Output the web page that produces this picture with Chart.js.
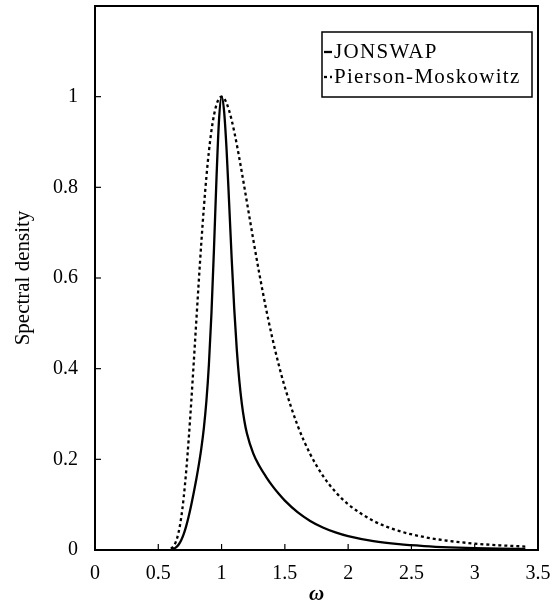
<!DOCTYPE html>
<html><head><meta charset="utf-8">
<script src="https://cdn.jsdelivr.net/npm/chart.js@4/dist/chart.umd.min.js"></script>
<style>html,body{margin:0;padding:0;background:#fff;}#wrap{width:556px;height:607px;}</style>
</head><body><div id="wrap"><canvas id="c" width="556" height="607"></canvas></div>
<script>
const omega = [0.60,0.62,0.64,0.66,0.68,0.70,0.72,0.74,0.76,0.78,0.80,0.82,0.84,0.86,0.88,0.90,0.92,0.94,0.96,0.98,1.00,1.02,1.04,1.06,1.08,1.10,1.12,1.14,1.16,1.18,1.20,1.25,1.30,1.35,1.40,1.45,1.50,1.60,1.70,1.80,1.90,2.00,2.20,2.40,2.60,2.80,3.00,3.20,3.40];
const jonswap = [0.0009,0.0025,0.0057,0.0116,0.0210,0.0345,0.0522,0.0739,0.0988,0.1262,0.1557,0.1878,0.2242,0.2689,0.3281,0.4098,0.5218,0.6645,0.8208,0.9494,1.0,0.9676,0.8808,0.7638,0.6420,0.5325,0.4431,0.3741,0.3229,0.2852,0.2574,0.2131,0.1847,0.1620,0.1420,0.1244,0.1088,0.0834,0.0641,0.0497,0.0388,0.0306,0.0195,0.0128,0.0087,0.0060,0.0043,0.0031,0.0023];
const piersonMoskowitz = [0.0029,0.0081,0.0189,0.0384,0.0694,0.1139,0.1722,0.2434,0.3248,0.4129,0.5035,0.5931,0.6778,0.7550,0.8227,0.8795,0.9250,0.9592,0.9825,0.9958,1.0,0.9962,0.9855,0.9690,0.9478,0.9228,0.8949,0.8648,0.8332,0.8007,0.7677,0.6855,0.6069,0.5343,0.4687,0.4104,0.3591,0.2751,0.2117,0.1640,0.1281,0.1009,0.0642,0.0422,0.0286,0.0199,0.0141,0.0103,0.0076];
const seriesNames = ['JONSWAP','Pierson-Moskowitz'];
const xTicks = [0,0.5,1,1.5,2,2.5,3,3.5];
const xTickLabels = ['0','0.5','1','1.5','2','2.5','3','3.5'];
const yTicks = [0,0.2,0.4,0.6,0.8,1];
const yTickLabels = ['0','0.2','0.4','0.6','0.8','1'];
const xTitle = 'ω';
const yTitle = 'Spectral density';

const FONT = "'Liberation Serif', 'Times New Roman', serif";

const framePlugin = {
  id: 'frame',
  afterDatasetsDraw(chart) {
    const {ctx, chartArea: a, scales: {x, y}} = chart;
    ctx.save();
    ctx.strokeStyle = '#000';
    ctx.lineWidth = 2;
    ctx.strokeRect(a.left, a.top, a.right - a.left, a.bottom - a.top);
    ctx.lineWidth = 1.2;
    xTicks.forEach(v => { const p = x.getPixelForValue(v); ctx.beginPath(); ctx.moveTo(p, a.bottom); ctx.lineTo(p, a.bottom - 6); ctx.stroke(); });
    yTicks.forEach(v => { const p = y.getPixelForValue(v); ctx.beginPath(); ctx.moveTo(a.left, p); ctx.lineTo(a.left + 6, p); ctx.stroke(); });
    // legend
    const bw = 210, bh = 65;
    const bx = a.right - 6 - bw, by = a.top + 26;
    ctx.lineWidth = 1.5;
    ctx.strokeRect(bx, by, bw, bh);
    ctx.font = '21px ' + FONT;
    ctx.fillStyle = '#000';
    ctx.textBaseline = 'middle';
    try { ctx.letterSpacing = '1.3px'; } catch (e) {}
    chart.data.datasets.forEach((ds, i) => {
      const ry = by + 20 + i * 25;
      ctx.save();
      ctx.lineWidth = ds.borderWidth;
      ctx.setLineDash(ds.borderDash || []);
      ctx.beginPath(); ctx.moveTo(bx + 2, ry); ctx.lineTo(bx + 10, ry); ctx.stroke();
      ctx.restore();
      ctx.fillText(ds.label, bx + 12, ry);
    });
    ctx.restore();
  }
};

const mk = (ys) => omega.map((w, i) => ({x: w, y: ys[i]}));

new Chart(document.getElementById('c'), {
  type: 'line',
  data: {
    datasets: [
      {label: seriesNames[0], data: mk(jonswap), borderColor: '#000', borderWidth: 2.3, pointRadius: 0, fill: false, cubicInterpolationMode: 'monotone'},
      {label: seriesNames[1], data: mk(piersonMoskowitz), borderColor: '#000', borderWidth: 2.3, borderDash: [3, 3], pointRadius: 0, fill: false, cubicInterpolationMode: 'monotone'}
    ]
  },
  options: {
    responsive: false,
    devicePixelRatio: 1,
    animation: false,
    layout: {padding: {top: 6, right: 18, left: 0, bottom: 0}},
    plugins: {legend: {display: false}, tooltip: {enabled: false}},
    scales: {
      x: {
        type: 'linear', min: 0, max: 3.5,
        afterBuildTicks: s => { s.ticks = xTicks.map(v => ({value: v})); },
        afterFit: s => { s.height = 57; s.paddingLeft = 0; s.paddingRight = 0; },
        ticks: {callback: v => xTickLabels[xTicks.indexOf(v)], color: '#000', font: {family: FONT, size: 20}, padding: 12, maxRotation: 0, autoSkip: false},
        grid: {display: false, drawTicks: false},
        border: {display: false},
        title: {display: true, text: xTitle, color: '#000', font: {family: FONT, size: 21, style: 'italic', weight: 'bold'}, padding: {top: 0, bottom: 0}}
      },
      y: {
        type: 'linear', min: 0, max: 1.2,
        afterBuildTicks: s => { s.ticks = yTicks.map(v => ({value: v})); },
        afterFit: s => { s.width = 95; s.paddingTop = 0; s.paddingBottom = 0; },
        ticks: {callback: v => yTickLabels[yTicks.indexOf(v)], color: '#000', font: {family: FONT, size: 20}, padding: 17, autoSkip: false},
        grid: {display: false, drawTicks: false},
        border: {display: false},
        title: {display: true, text: yTitle, color: '#000', font: {family: FONT, size: 21}, padding: {top: 11, bottom: 0}}
      }
    }
  },
  plugins: [framePlugin]
});
</script>
</body></html>
